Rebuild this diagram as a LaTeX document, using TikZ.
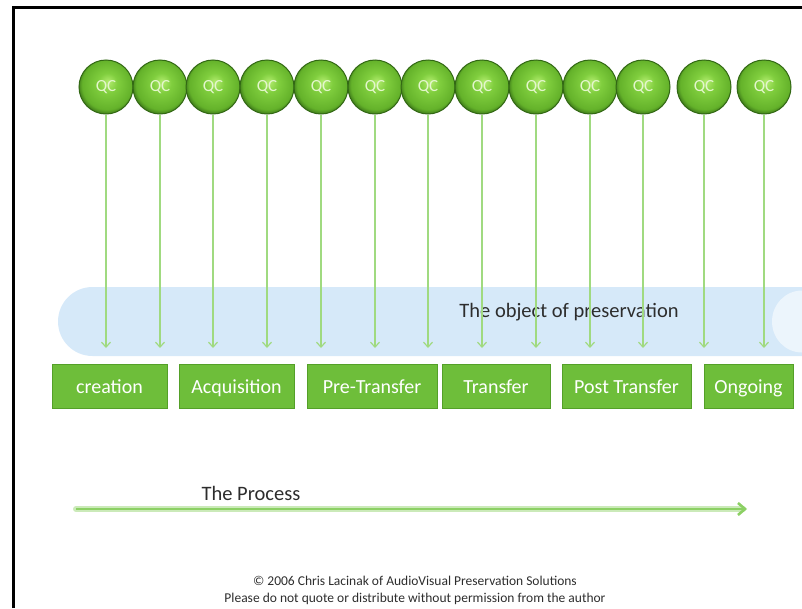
\documentclass[tikz,border=0pt]{standalone}
\usepackage{fontspec}
\setmainfont{Carlito}
\usepackage{tikz}
\usetikzlibrary{calc,arrows.meta,backgrounds}
\definecolor{qclight}{RGB}{178,236,110}
\definecolor{qcgreen}{RGB}{128,206,62}
\definecolor{qcmid}{RGB}{100,178,42}
\definecolor{qcdark}{RGB}{50,104,20}
\definecolor{qctext}{RGB}{228,246,205}
\definecolor{dropgreen}{RGB}{160,218,128}
\definecolor{stagegreen}{RGB}{110,190,58}
\definecolor{stageedge}{RGB}{84,160,40}
\definecolor{bandblue}{RGB}{214,233,249}
\definecolor{procgreen}{RGB}{140,208,100}
\definecolor{darktext}{RGB}{45,45,45}
\pgfdeclareradialshading{qcball}{\pgfpoint{2bp}{5bp}}{color(0bp)=(qclight); color(9bp)=(qcgreen); color(23bp)=(qcmid); color(28bp)=(qcdark); color(40bp)=(qcdark)}
\newcommand{\ballsize}{54pt}
\newcommand{\tipy}{348}
\tikzset{
  qc/.style={circle, minimum size=\ballsize, inner sep=0pt, shading=qcball,
    draw=qcdark, line width=1pt, text=qctext, font=\fontsize{17}{17}\selectfont},
  stage/.style={rectangle, fill=stagegreen, draw=stageedge, line width=1pt, text=white,
    minimum height=44pt, inner sep=0pt, text height=17pt, text depth=2pt,
    font=\fontsize{20}{20}\selectfont},
  drop/.style={draw=dropgreen, line width=1.2pt, -{Straight Barb[length=5pt,width=9pt]}}
}

\begin{document}
\begin{tikzpicture}[x=1pt,y=-1pt]
\useasboundingbox (0,0) rectangle (802,608);
%frame
\draw[black, line width=3pt] (13,608) -- (13,7) -- (802,7);
%band
\begin{scope}
\clip (0,0) rectangle (802,608);
\fill[bandblue, rounded corners=34.5pt] (58,287) rectangle (880,356);
\fill[white, opacity=0.55] (802,321.5) ellipse[x radius=30, y radius=31];
\end{scope}
\node[text=darktext, font=\fontsize{20.5}{20.5}\selectfont] (object) at (569,312) {The object of preservation};
%balls
\node[qc] (q1) at (106, 87) {QC};
\node[qc] (q2) at (160, 87) {QC};
\node[qc] (q3) at (213, 87) {QC};
\node[qc] (q4) at (267, 87) {QC};
\node[qc] (q5) at (321, 87) {QC};
\node[qc] (q6) at (375, 87) {QC};
\node[qc] (q7) at (428, 87) {QC};
\node[qc] (q8) at (482, 87) {QC};
\node[qc] (q9) at (536, 87) {QC};
\node[qc] (q10) at (590, 87) {QC};
\node[qc] (q11) at (643, 87) {QC};
\node[qc] (q12) at (704, 87) {QC};
\node[qc] (q13) at (764, 87) {QC};
%tips
\coordinate (t1) at (106, \tipy);
\coordinate (t2) at (160, \tipy);
\coordinate (t3) at (213, \tipy);
\coordinate (t4) at (267, \tipy);
\coordinate (t5) at (321, \tipy);
\coordinate (t6) at (375, \tipy);
\coordinate (t7) at (428, \tipy);
\coordinate (t8) at (482, \tipy);
\coordinate (t9) at (536, \tipy);
\coordinate (t10) at (590, \tipy);
\coordinate (t11) at (643, \tipy);
\coordinate (t12) at (704, \tipy);
\coordinate (t13) at (764, \tipy);
\draw[drop] (q1) -- (t1);
\draw[drop] (q2) -- (t2);
\draw[drop] (q3) -- (t3);
\draw[drop] (q4) -- (t4);
\draw[drop] (q5) -- (t5);
\draw[drop] (q6) -- (t6);
\draw[drop] (q7) -- (t7);
\draw[drop] (q8) -- (t8);
\draw[drop] (q9) -- (t9);
\draw[drop] (q10) -- (t10);
\draw[drop] (q11) -- (t11);
\draw[drop] (q12) -- (t12);
\draw[drop] (q13) -- (t13);
%stages
\node[stage, minimum width=115pt] (creation) at (109.5, 386) {creation};
\node[stage, minimum width=115pt] (acquisition) at (236.5, 386) {Acquisition};
\node[stage, minimum width=130pt] (pretransfer) at (372, 386) {Pre-Transfer};
\node[stage, minimum width=108pt] (transfer) at (496, 386) {Transfer};
\node[stage, minimum width=129pt] (posttransfer) at (626.5, 386) {Post Transfer};
\node[stage, minimum width=89pt] (ongoing) at (748.5, 386) {Ongoing};
%process
\coordinate (procstart) at (76, 509);
\coordinate (procend) at (747, 509);
\draw[procgreen!45, line width=6pt, line cap=round] (procstart) -- ($(procend)+(-4,0)$);
\draw[procgreen, line width=2.6pt, -{Straight Barb[length=7pt,width=12pt]}] (procstart) -- (procend);
\node[text=darktext, font=\fontsize{20.5}{20.5}\selectfont] (process) at (251, 493) {The Process};
%footer
\node[text=darktext, font=\fontsize{13.5}{17}\selectfont, align=center] (footer) at (415, 590)
  {\textcopyright{} 2006 Chris Lacinak of AudioVisual Preservation Solutions\\
   Please do not quote or distribute without permission from the author};
\end{tikzpicture}
\end{document}
